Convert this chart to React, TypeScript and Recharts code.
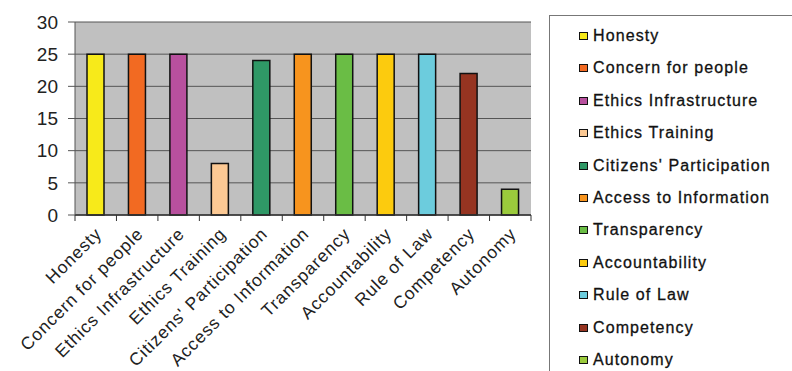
import { BarChart, Bar, XAxis, YAxis, CartesianGrid, Cell, Legend } from 'recharts';

const categories = [
  'Honesty',
  'Concern for people',
  'Ethics Infrastructure',
  'Ethics Training',
  "Citizens' Participation",
  'Access to Information',
  'Transparency',
  'Accountability',
  'Rule of Law',
  'Competency',
  'Autonomy',
];
const values = [25, 25, 25, 8, 24, 25, 25, 25, 25, 22, 4];
const colors = [
  '#F7EA1A',
  '#F26A22',
  '#B8509E',
  '#FCC994',
  '#2F9866',
  '#F7941E',
  '#6ABD45',
  '#FCCB0E',
  '#6CCCDD',
  '#963421',
  '#9BCB3C',
];
const yTicks = [0, 5, 10, 15, 20, 25, 30];

const data = categories.map((name, i) => ({ name, value: values[i], color: colors[i] }));

const font = '"Liberation Sans", Arial, sans-serif';

// x labels sit at 45 degrees, tick marks go between the categories
const XTick = (props: any) => {
  const { x, y, payload, index } = props;
  const half = payload && payload.offset ? payload.offset : 20.7;
  return (
    <g>
      <line x1={x - half} y1={y - 8} x2={x - half} y2={y - 2} stroke="#333" strokeWidth={1} />
      {index === categories.length - 1 && (
        <line x1={x + half} y1={y - 8} x2={x + half} y2={y - 2} stroke="#333" strokeWidth={1} />
      )}
      <text
        x={x + 7}
        y={y + 12}
        transform={`rotate(-45 ${x + 7} ${y + 12})`}
        textAnchor="end"
        fontSize={17.5}
        letterSpacing={0.9}
        fill="#222"
        fontFamily={font}
      >
        {payload.value}
      </text>
    </g>
  );
};

const LegendBox = () => (
  <div
    style={{
      position: 'absolute',
      left: 549,
      top: 15,
      width: 260,
      height: 380,
      border: '1px solid #777',
      background: '#fff',
      boxSizing: 'border-box',
      fontFamily: font,
    }}
  >
    {categories.map((c, i) => (
      <div
        key={c}
        style={{
          position: 'absolute',
          left: 29,
          top: 10 + i * 32.4,
          height: 20,
          display: 'flex',
          alignItems: 'center',
          fontSize: 16,
          letterSpacing: 1.1,
          color: '#111',
          whiteSpace: 'nowrap',
          WebkitTextStroke: '0.3px #111',
        }}
      >
        <span
          style={{
            display: 'inline-block',
            width: 9,
            height: 8,
            background: colors[i],
            border: '1.5px solid #111',
            boxSizing: 'border-box',
            marginRight: 5,
          }}
        />
        {c}
      </div>
    ))}
  </div>
);

export default function App() {
  return (
    <div style={{ position: 'absolute', left: 0, top: 0, width: 792, height: 371, overflow: 'hidden', background: '#fff' }}>
      <BarChart
        width={792}
        height={371}
        data={data}
        margin={{ top: 22, right: 261, left: 30, bottom: 6 }}
      >
        <CartesianGrid vertical={false} fill="#C0C0C0" stroke="#555" strokeWidth={1} />
        <XAxis
          dataKey="name"
          interval={0}
          height={150}
          tick={<XTick />}
          tickLine={false}
          axisLine={{ stroke: '#333', strokeWidth: 1.5 }}
        />
        <YAxis
          domain={[0, 30]}
          ticks={yTicks}
          width={45}
          tickSize={7}
          tickMargin={10}
          axisLine={{ stroke: '#555' }}
          tickLine={{ stroke: '#555' }}
          tick={{ fontSize: 19, fill: '#222', fontFamily: font }}
        />
        <YAxis
          yAxisId="r"
          orientation="right"
          width={0}
          tick={false}
          tickLine={false}
          axisLine={{ stroke: '#888' }}
        />
        <Legend content={() => null} />
        <Bar dataKey="value" barSize={17} stroke="#111" strokeWidth={1.5} isAnimationActive={false}>
          {data.map((d) => (
            <Cell key={d.name} fill={d.color} />
          ))}
        </Bar>
      </BarChart>
      <LegendBox />
    </div>
  );
}
